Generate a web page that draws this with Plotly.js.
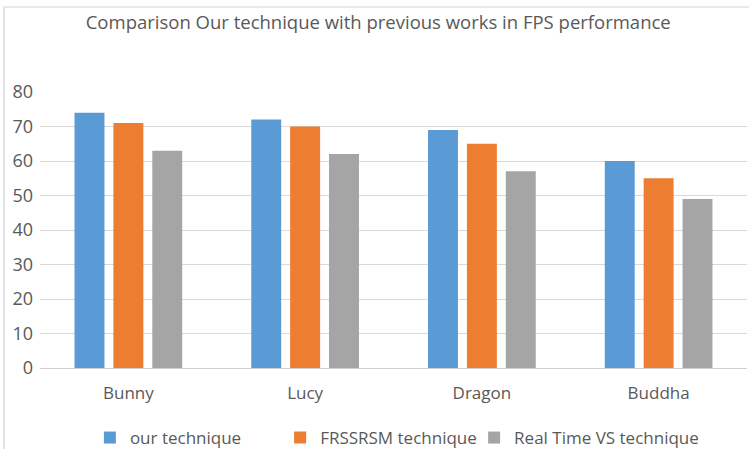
<!DOCTYPE html>
<html>
<head>
<meta charset="utf-8">
<script src="https://cdn.plot.ly/plotly-3.0.1.min.js"></script>
<style>body{margin:0;background:#fff}#chart{width:749px;height:449px}</style>
</head>
<body>
<div id="chart"></div>
<script>
const categories = ["Bunny", "Lucy", "Dragon", "Buddha"];
const ourTechnique = [74, 72, 69, 60];
const frssrsmTechnique = [71, 70, 65, 55];
const realTimeVS = [63, 62, 57, 49];
const yTicks = [0, 10, 20, 30, 40, 50, 60, 70, 80];
const seriesNames = ["our technique", "FRSSRSM technique", "Real Time VS technique"];
const seriesColors = ["#5B9BD5", "#ED7D31", "#A5A5A5"];

const font = {family: "Open Sans, Liberation Sans, sans-serif", color: "#595959"};
const legendIds = ["legend", "legend2", "legend3"];
const traces = [ourTechnique, frssrsmTechnique, realTimeVS].map((vals, i) => ({
  type: "bar", name: seriesNames[i], x: categories, y: vals,
  marker: {color: seriesColors[i]}, hoverinfo: "x+y", legend: legendIds[i], showlegend: true
}));

const legendXs = [0.120, 0.374, 0.633];
function legendCfg(x) {
  return {orientation: "h", xref: "container", yref: "container", x: x, xanchor: "left", y: 0.0245, yanchor: "middle",
    font: Object.assign({}, font, {size: 17}), itemwidth: 30, bgcolor: "rgba(0,0,0,0)"};
}

const layout = {
  width: 749, height: 449,
  showlegend: true,
  margin: {l: 40, r: 2, t: 92, b: 81},
  paper_bgcolor: "#fff", plot_bgcolor: "#fff",
  title: {text: "Comparison Our technique with previous works in FPS performance", x: 0.505, xanchor: "center", y: 0.949, yanchor: "middle", font: Object.assign({}, font, {size: 18.5})},
  barmode: "group", bargap: 0.34, bargroupgap: 0.23,
  xaxis: {tickfont: Object.assign({}, font, {size: 17}), showline: false, ticks: "", showgrid: false, ticklabelstandoff: 13, automargin: false},
  yaxis: {range: [0, 80], tickvals: yTicks, tickfont: Object.assign({}, font, {size: 18}), gridcolor: "#D9D9D9", gridwidth: 1.2, zeroline: true, zerolinecolor: "#D0D0D0", zerolinewidth: 1.2, ticks: "", showline: false, ticklabelstandoff: 6, automargin: false},
  legend: legendCfg(legendXs[0]),
  legend2: legendCfg(legendXs[1]),
  legend3: legendCfg(legendXs[2]),
  shapes: [
    {type: "line", xref: "paper", yref: "paper", x0: -0.051, x1: -0.051, y0: -0.33, y1: 1.308, line: {color: "#D9D9D9", width: 1.5}},
    {type: "line", xref: "paper", yref: "paper", x0: -0.051, x1: 1.01, y0: 1.308, y1: 1.308, line: {color: "#E3E3E3", width: 1.5}}
  ]
};
Plotly.newPlot("chart", traces, layout, {displayModeBar: false, responsive: false});
</script>
</body>
</html>
